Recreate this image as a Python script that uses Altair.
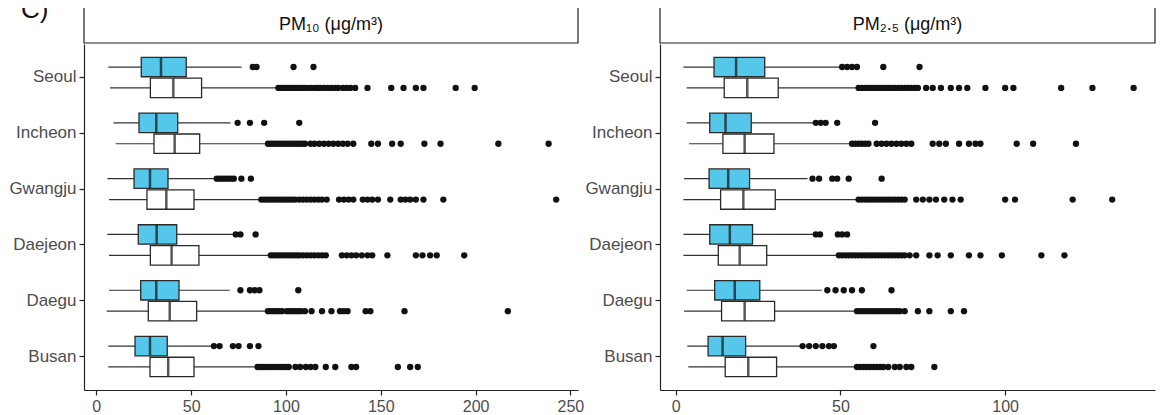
import altair as alt
import pandas as pd

FONT = "Liberation Sans"
BLUE = "#55C7EA"

cities = ["Seoul", "Incheon", "Gwangju", "Daejeon", "Daegu", "Busan"]
groups = ["blue_group", "white_group"]
panel_titles = ["PM\u2081\u2080 (\u03bcg/m\u00b3)", "PM\u2082.\u2085 (\u03bcg/m\u00b3)"]
panel_label = ["C)"]
pm10_ticks = [0, 50, 100, 150, 200, 250]
pm25_ticks = [0, 50, 100]

# whisker low, Q1, median, Q3, whisker high
pm10_blue = [
    [6.3, 23.7, 34.1, 47.4, 76.6],
    [9.0, 22.5, 31.6, 42.9, 70.8],
    [5.8, 19.9, 28.3, 37.8, 62.9],
    [5.8, 22.1, 31.8, 42.4, 72.0],
    [6.7, 23.4, 31.6, 43.6, 70.3],
    [6.3, 20.4, 28.3, 37.4, 61.1],
]
pm10_white = [
    [7.2, 28.5, 40.6, 55.5, 95.4],
    [10.2, 30.4, 41.3, 54.5, 90.1],
    [6.7, 26.7, 36.9, 51.5, 86.6],
    [6.7, 28.5, 39.7, 54.1, 91.4],
    [5.5, 27.4, 38.7, 52.9, 90.1],
    [6.3, 28.3, 37.9, 51.5, 84.8],
]
pm10_blue_out = [
    [82.5, 84.5, 104, 114.5],
    [74.5, 81, 88.5, 107],
    [63.5, 65, 66.5, 68, 69.5, 71, 72.5, 76.5, 81.5],
    [73.5, 76, 84],
    [76, 81, 83.5, 86, 106.5],
    [62, 65, 72, 75, 81, 85.5],
]
pm10_white_out = [
    [96, 97.5, 99, 100.5, 102, 103.5, 105, 106.5, 108, 109.5, 111, 113, 115, 116.5,
     118, 120, 122, 124, 126, 127.5, 130, 132, 134, 136.5, 143, 155.5, 162, 168.5,
     172.5, 189.5, 199.5],
    [90.5, 92, 93.5, 95, 96.5, 98, 99.5, 101, 102.5, 104, 105.5, 107, 108.5, 110,
     113, 115, 117.5, 120, 122.5, 125, 127.5, 130, 132.5, 135.5, 145, 148.5, 156,
     160.5, 173, 181.5, 212, 238.5],
    [87, 88.5, 90, 91.5, 93, 94.5, 96, 97.5, 99, 100.5, 102, 103.5, 105, 107, 109,
     111, 113, 115, 117, 119, 121.5, 128, 130.5, 133, 135.5, 140.5, 143, 145.5,
     148.5, 155, 160.5, 163, 165.5, 168.5, 172.5, 183, 242.5],
    [92, 93.5, 95, 96.5, 98, 99.5, 101, 102.5, 104, 105.5, 107, 109, 111, 113, 115,
     117, 119, 121, 129.5, 132, 134.5, 137, 140, 143, 145.5, 153.5, 168.5, 172,
     176, 179.5, 194],
    [90.5, 92, 93.5, 95, 96.5, 98, 100.5, 102, 103.5, 105, 106.5, 108, 110, 113.5,
     119, 124, 128.5, 130.5, 132.5, 142, 144.5, 162.5, 217],
    [85, 86.5, 88, 89.5, 91, 92.5, 94, 95.5, 97, 98.5, 100, 101.5, 105, 107.5,
     110.5, 113, 115.5, 121, 126, 134.5, 137, 159, 165.5, 169.5],
]

pm25_blue = [
    [2.3, 11.6, 18.3, 27.0, 49.9],
    [3.3, 10.3, 15.1, 22.9, 42.0],
    [2.5, 10.1, 15.9, 22.4, 40.0],
    [2.3, 10.3, 16.4, 23.3, 41.8],
    [3.3, 11.8, 17.9, 25.5, 44.3],
    [3.5, 9.8, 14.2, 21.2, 37.9],
]
pm25_white = [
    [3.3, 14.7, 21.7, 31.1, 55.0],
    [4.0, 14.3, 20.9, 29.8, 52.8],
    [2.3, 13.6, 20.5, 30.2, 54.7],
    [2.3, 12.9, 19.4, 27.6, 49.1],
    [2.5, 13.9, 20.9, 30.0, 54.2],
    [3.8, 15.0, 22.0, 30.6, 54.2],
]
pm25_blue_out = [
    [50.5, 52, 53.5, 55, 63, 74],
    [42.5, 44, 45.5, 49, 60.5],
    [41.5, 43.5, 47.5, 49, 52.5, 62.5],
    [42.5, 43.8, 49.2, 50.5, 52],
    [46, 48.5, 51, 53.5, 56.5, 65.5],
    [38.5, 40.5, 42.5, 44.5, 46.5, 48, 60],
]
pm25_white_out = [
    [55.5, 56.5, 57.5, 58.5, 59.5, 60.5, 61.5, 62.5, 63.5, 64.5, 65.5, 66.5, 67.5,
     68.5, 69.5, 70.5, 71.5, 72.5, 73.5, 76, 78, 80.5, 83.5, 86, 88.5, 94, 100,
     102.5, 117, 126.5, 139],
    [53.5, 54.5, 55.5, 56.5, 57.5, 58.5, 61, 62.5, 64, 65.5, 67, 68.5, 70, 71.5,
     78, 80, 82, 86, 89, 91, 92.5, 103.5, 108.5, 121.5],
    [55.5, 56.5, 57.5, 58.5, 59.5, 60.5, 61.5, 62.5, 63.5, 64.5, 65.5, 66.5, 67.5,
     68.5, 69.5, 73, 75, 77, 79, 81.5, 84, 86.5, 100, 103, 120.5, 132.5],
    [49.5, 50.5, 51.5, 52.5, 53.5, 54.5, 55.5, 56.5, 57.5, 58.5, 59.5, 60.5, 61.5,
     62.5, 63.5, 64.5, 65.5, 66.5, 67.5, 68.5, 69.5, 71, 73, 77, 79.5, 83.5, 89,
     92.5, 99, 111, 118],
    [55, 56, 57, 58, 59, 60, 61, 62, 63, 64, 65, 66, 67, 68, 69.5, 73.5, 77, 83.5,
     87.5],
    [55, 56, 57, 58, 59, 60, 61, 62, 63, 64.5, 66.5, 68, 70, 71.5, 78.5],
]


def build(blue, white, blue_out, white_out):
    srows, orows = [], []
    for i, c in enumerate(cities):
        for g, s in ((groups[0], blue[i]), (groups[1], white[i])):
            srows.append(dict(city=c, group=g, lo=s[0], q1=s[1], med=s[2], q3=s[3], hi=s[4]))
        for v in blue_out[i]:
            orows.append(dict(city=c, group=groups[0], value=v))
        for v in white_out[i]:
            orows.append(dict(city=c, group=groups[1], value=v))
    return pd.DataFrame(srows), pd.DataFrame(orows)


PH = 346
HH = 36


def panel(stats, outs, domain, ticks, width, title, with_label):
    xs = alt.Scale(domain=domain, nice=False, zero=False)
    Y = alt.Y("city:N", sort=cities, title=None,
              scale=alt.Scale(paddingInner=0, paddingOuter=0.1),
              axis=alt.Axis(labelFontSize=17, labelColor="#4d4d4d", labelFont=FONT,
                            tickSize=5, tickColor="#222", tickWidth=1.2,
                            domainColor="#222", domainWidth=1.2, labelPadding=3))
    YO = alt.YOffset("group:N", sort=groups,
                     scale=alt.Scale(paddingInner=0.07, paddingOuter=0.37))
    X = alt.X("lo:Q", title=None, scale=xs,
              axis=alt.Axis(values=ticks, labelFontSize=16, labelColor="#4d4d4d",
                            labelFont=FONT, tickSize=5, tickColor="#222", tickWidth=1.2,
                            domainColor="#222", domainWidth=1.2, grid=False,
                            labelPadding=3))
    base = alt.Chart(stats)
    whisk = base.mark_rule(color="#333", strokeWidth=1.2).encode(
        x=X, x2="hi:Q", y=Y, yOffset=YO)
    box = base.mark_bar(stroke="#2a2a2a", strokeWidth=1.3, opacity=1).encode(
        x=alt.X("q1:Q", title=None), x2="q3:Q", y=Y, yOffset=YO,
        fill=alt.Fill("group:N", scale=alt.Scale(domain=groups, range=[BLUE, "#ffffff"]),
                      legend=None))
    med = base.mark_tick(color="#111", thickness=2.5, size=19).encode(
        x=alt.X("med:Q", title=None), y=Y, yOffset=YO)
    pts = alt.Chart(outs).mark_circle(color="#111", size=40, opacity=1).encode(
        x=alt.X("value:Q", title=None), y=Y, yOffset=YO)
    main = alt.layer(whisk, box, med, pts).properties(width=width, height=PH)

    hdf = pd.DataFrame({"t": [title]})
    rect = alt.Chart(hdf).mark_rect(fill="white", stroke="#222", strokeWidth=1.2).encode(
        x=alt.value(0), x2=alt.value(width), y=alt.value(0), y2=alt.value(HH))
    txt = alt.Chart(hdf).mark_text(fontSize=18, font=FONT, color="#111").encode(
        text="t:N", x=alt.value(width / 2), y=alt.value(HH / 2))
    layers = [rect, txt]
    if with_label:
        ldf = pd.DataFrame({"t": panel_label})
        lab = alt.Chart(ldf).mark_text(fontSize=26, font=FONT, color="#111",
                                       align="left", baseline="alphabetic").encode(
            text="t:N", x=alt.value(-63), y=alt.value(11))
        layers.append(lab)
    header = alt.layer(*layers).properties(width=width, height=HH)
    return alt.vconcat(header, main, spacing=0)


s10, o10 = build(pm10_blue, pm10_white, pm10_blue_out, pm10_white_out)
s25, o25 = build(pm25_blue, pm25_white, pm25_blue_out, pm25_white_out)

left = panel(s10, o10, [-6.5, 254], pm10_ticks, 494, panel_titles[0], True)
right = panel(s25, o25, [-4.8, 145.5], pm25_ticks, 495, panel_titles[1], False)

chart = alt.hconcat(left, right, spacing=0).properties(
    padding={"left": 0, "top": -11, "right": 0, "bottom": 0}
).configure_view(strokeWidth=0).resolve_scale(x="independent")

chart.save("out.html", embed_options={"renderer": "svg", "actions": False})
